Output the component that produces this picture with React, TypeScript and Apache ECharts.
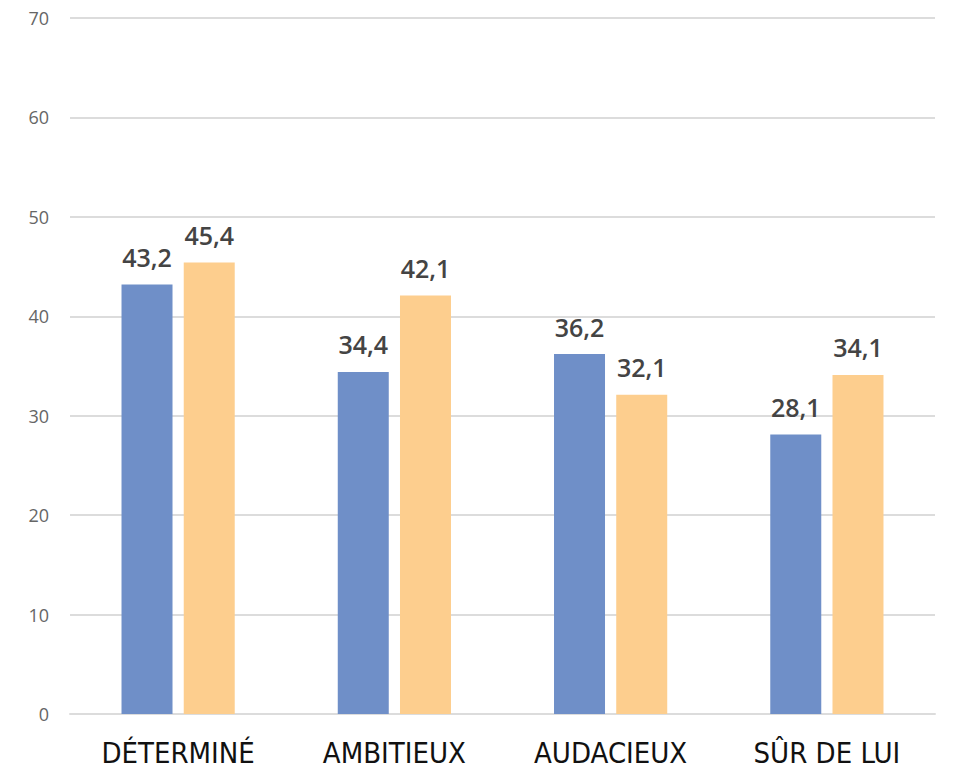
import React, { useEffect, useRef } from "react";
import * as echarts from "echarts";

const categories = ["DÉTERMINÉ", "AMBITIEUX", "AUDACIEUX", "SÛR DE LUI"];
const seriesA = [43.2, 34.4, 36.2, 28.1];
const seriesB = [45.4, 42.1, 32.1, 34.1];
const yTicks = { min: 0, max: 70, interval: 10 };

export default function App() {
  const ref = useRef<HTMLDivElement>(null);
  useEffect(() => {
    if (!ref.current) return;
    const chart = echarts.init(ref.current, null, { renderer: "svg" });
    const labelCfg = {
      show: true,
      position: "top",
      distance: 15,
      color: "#444",
      fontFamily: "Open Sans",
      fontWeight: 600,
      fontSize: 25,
      formatter: (p: any) => String(p.value).replace(".", ","),
    };
    chart.setOption({
      animation: false,
      grid: { left: 70, right: 21, top: 18, bottom: 62, containLabel: false },
      xAxis: {
        type: "category",
        data: categories,
        axisLine: { show: true, lineStyle: { color: "#dcdcdc", width: 2 } },
        axisTick: { show: false },
        axisLabel: {
          color: "#111",
          fontFamily: "DejaVu Sans Condensed",
          fontSize: 29,
          margin: 24,
          interval: 0,
        },
      },
      yAxis: {
        type: "value",
        min: yTicks.min,
        max: yTicks.max,
        interval: yTicks.interval,
        axisLine: { show: false },
        axisTick: { show: false },
        splitLine: { lineStyle: { color: "#dcdcdc", width: 2 } },
        axisLabel: {
          color: "#666",
          fontFamily: "Open Sans",
          fontSize: 18,
          margin: 21,
        },
      },
      series: [
        {
          type: "bar",
          data: seriesA,
          barWidth: 51,
          barGap: "22%",
          itemStyle: { color: "#6F8FC8" },
          label: labelCfg,
        },
        {
          type: "bar",
          data: seriesB,
          barWidth: 51,
          itemStyle: { color: "#FDCE8E" },
          label: labelCfg,
        },
      ],
    });
    return () => chart.dispose();
  }, []);
  return (
    <div
      ref={ref}
      style={{ position: "fixed", left: 0, top: 0, width: 956, height: 776, background: "#fff" }}
    />
  );
}
